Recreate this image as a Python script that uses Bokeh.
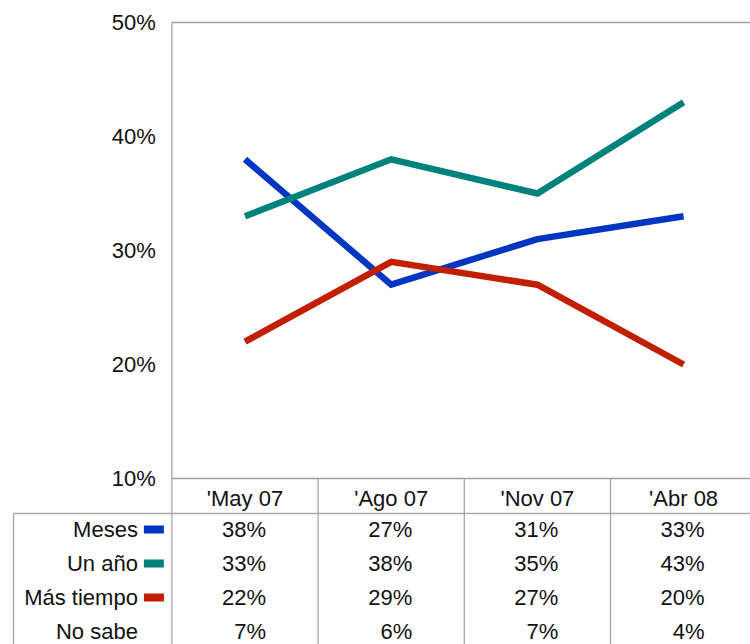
from bokeh.plotting import figure
from bokeh.models import Range1d
from bokeh.core.properties import value
from bokeh.embed import file_html
from bokeh.resources import INLINE

categories = ["'May 07", "'Ago 07", "'Nov 07", "'Abr 08"]
meses = [38, 27, 31, 33]
un_ano = [33, 38, 35, 43]
mas_tiempo = [22, 29, 27, 20]
no_sabe = [7, 6, 7, 4]
series_names = ["Meses", "Un año", "Más tiempo", "No sabe"]
series_values = [meses, un_ano, mas_tiempo, no_sabe]
series_colors = ["#0036C2", "#00827C", "#C21E00", None]
y_ticks = [10, 20, 30, 40, 50]

FONT = value("Liberation Sans")
FS = "22px"
W, H = 750, 644
PX_X = 146.2   # px per category unit
PX_Y = 11.4    # px per percent

x0 = -244.5 / PX_X
y1 = 50 + 22 / PX_Y
p = figure(width=W, height=H, output_backend="svg", toolbar_location=None,
           x_range=Range1d(x0, x0 + W / PX_X), y_range=Range1d(y1 - H / PX_Y, y1),
           min_border=0, x_axis_type=None, y_axis_type=None)
p.outline_line_color = None
p.xgrid.visible = False
p.ygrid.visible = False
p.background_fill_color = "white"
p.border_fill_color = "white"

xs = list(range(len(categories)))
ylo = p.y_range.start
xhi = p.x_range.end

# layout positions (in data units)
hdr_y = 10 - 20 / PX_Y
hline_y = 10 - 35 / PX_Y
row_y = [10 - (51 + 34 * k) / PX_Y for k in range(4)]
left_x = x0 + 13 / PX_X
label_x = -0.5 - 34 / PX_X
swatch_x = -0.5 - 18 / PX_X
ytick_x = -0.5 - 16 / PX_X

# plot area border
p.segment(x0=[-0.5, -0.5, -0.5], y0=[50, 10, 10], x1=[xhi, xhi, -0.5], y1=[50, 10, 50],
          line_color="#a0a0a0", line_width=1.3)

# table lines
edges = [i - 0.5 for i in range(len(categories) + 1)]
p.segment(x0=edges, y0=[10] * len(edges), x1=edges, y1=[ylo] * len(edges),
          line_color="#a8a8a8", line_width=1.3)
p.segment(x0=[left_x, left_x], y0=[hline_y, hline_y], x1=[xhi, left_x], y1=[hline_y, ylo],
          line_color="#a8a8a8", line_width=1.3)

# y tick labels
p.text(x=[ytick_x] * len(y_ticks), y=y_ticks, text=[f"{t}%" for t in y_ticks],
       text_font=FONT, text_font_size=FS, text_align="right", text_baseline="middle",
       text_color="#111111")

# lines
for vals, col in zip(series_values, series_colors):
    if col is None:
        continue
    p.line(x=xs, y=vals, line_color=col, line_width=6.5, line_join="miter", line_cap="butt")

# header
p.text(x=xs, y=[hdr_y] * len(xs), text=categories, text_font=FONT, text_font_size=FS,
       text_align="center", text_baseline="middle", text_color="#111111")

# rows
for k, (name, vals, col) in enumerate(zip(series_names, series_values, series_colors)):
    yy = row_y[k]
    p.text(x=[label_x], y=[yy], text=[name], text_font=FONT, text_font_size=FS,
           text_align="right", text_baseline="middle", text_color="#111111")
    if col is not None:
        p.rect(x=[swatch_x], y=[yy], width=20, height=8, width_units="screen",
               height_units="screen", fill_color=col, line_color=None)
    p.text(x=[i + 21 / PX_X for i in xs], y=[yy] * len(xs), text=[f"{v}%" for v in vals],
           text_font=FONT, text_font_size=FS, text_align="right", text_baseline="middle",
           text_color="#111111")

open("out.html", "w").write(file_html(p, INLINE))
